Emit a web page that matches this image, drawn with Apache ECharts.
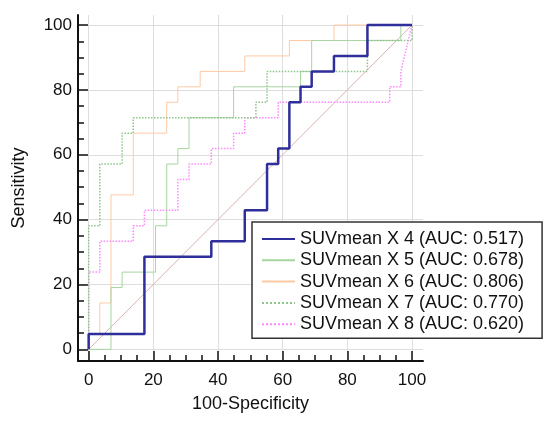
<!DOCTYPE html>
<html>
<head>
<meta charset="utf-8">
<script src="https://cdn.jsdelivr.net/npm/echarts@6/dist/echarts.min.js"></script>
<style>
  html, body { margin: 0; padding: 0; background: #fff; }
  #chart { width: 550px; height: 424px; }
</style>
</head>
<body>
<div id="chart"></div>
<script type="text/javascript">
// ROC corner points, 100-Specificity (x) and Sensitivity (y), in %
var x4 = [0, 0, 17.24, 17.24, 37.93, 37.93, 48.28, 48.28, 55.17, 55.17, 58.62, 58.62, 62.07, 62.07, 65.52, 65.52, 68.97, 68.97, 75.86, 75.86, 86.21, 86.21, 100];
var y4 = [0, 4.76, 4.76, 28.57, 28.57, 33.33, 33.33, 42.86, 42.86, 57.14, 57.14, 61.90, 61.90, 76.19, 76.19, 80.95, 80.95, 85.71, 85.71, 90.48, 90.48, 100, 100];

var x5 = [0, 6.90, 6.90, 10.34, 10.34, 20.69, 20.69, 24.14, 24.14, 27.59, 27.59, 31.03, 31.03, 44.83, 44.83, 65.52, 65.52, 68.97, 68.97, 96.55, 96.55, 100];
var y5 = [0, 0, 19.05, 19.05, 23.81, 23.81, 38.10, 38.10, 57.14, 57.14, 61.90, 61.90, 71.43, 71.43, 80.95, 80.95, 85.71, 85.71, 95.24, 95.24, 100, 100];

var x6 = [0, 0, 3.45, 3.45, 6.90, 6.90, 13.79, 13.79, 24.14, 24.14, 27.59, 27.59, 34.48, 34.48, 48.28, 48.28, 62.07, 62.07, 75.86, 75.86, 100];
var y6 = [0, 4.76, 4.76, 14.29, 14.29, 47.62, 47.62, 66.67, 66.67, 76.19, 76.19, 80.95, 80.95, 85.71, 85.71, 90.48, 90.48, 95.24, 95.24, 100, 100];

var x7 = [0, 0, 3.45, 3.45, 10.34, 10.34, 13.79, 13.79, 51.72, 51.72, 55.17, 55.17, 86.21, 86.21, 100, 100];
var y7 = [0, 38.10, 38.10, 57.14, 57.14, 66.67, 66.67, 71.43, 71.43, 76.19, 76.19, 85.71, 85.71, 95.24, 95.24, 100];

var x8 = [0, 0, 3.45, 3.45, 13.79, 13.79, 17.24, 17.24, 27.59, 27.59, 31.03, 31.03, 37.93, 37.93, 44.83, 44.83, 48.28, 48.28, 58.62, 58.62, 93.10, 93.10, 96.55, 96.55, 100];
var y8 = [0, 23.81, 23.81, 33.33, 33.33, 38.10, 38.10, 42.86, 42.86, 52.38, 52.38, 57.14, 57.14, 61.90, 61.90, 66.67, 66.67, 71.43, 71.43, 76.19, 76.19, 80.95, 80.95, 85.71, 100];

var diagX = [0, 100];
var diagY = [0, 100];

var names = ['SUVmean X 4 (AUC: 0.517)', 'SUVmean X 5 (AUC: 0.678)', 'SUVmean X 6 (AUC: 0.806)',
             'SUVmean X 7 (AUC: 0.770)', 'SUVmean X 8 (AUC: 0.620)'];

var majorTicks = [0, 20, 40, 60, 80, 100];
var minorTicks = [5, 10, 15, 25, 30, 35, 45, 50, 55, 65, 70, 75, 85, 90, 95];

function pairs(xs, ys) {
    var out = [];
    for (var i = 0; i < xs.length; i++) out.push([xs[i], ys[i]]);
    return out;
}

var font = 'Liberation Sans, Arial, sans-serif';

function mainAxis(name, min, max, pos, gap, margin) {
    return {
        type: 'value', position: pos, min: min, max: max,
        name: name, nameLocation: 'middle', nameGap: gap,
        nameTextStyle: { fontFamily: font, fontSize: 18, color: '#111' },
        axisLine: { show: true, onZero: false, lineStyle: { color: '#111', width: 2 } },
        axisTick: { show: true, inside: true, length: 10, customValues: majorTicks,
                    lineStyle: { color: '#111', width: 1.5 } },
        axisLabel: { show: true, customValues: majorTicks, margin: margin,
                     fontFamily: font, fontSize: 17, color: '#111' },
        splitLine: { show: true, lineStyle: { color: '#dedede', width: 1 } }
    };
}
function minorAxis(min, max, pos) {
    return {
        type: 'value', position: pos, min: min, max: max,
        axisLine: { show: false, onZero: false },
        axisTick: { show: true, inside: true, length: 6, customValues: minorTicks,
                    lineStyle: { color: '#111', width: 1.5 } },
        axisLabel: { show: false },
        splitLine: { show: false }
    };
}

function roc(name, xs, ys, color, width, type, z) {
    return {
        name: name, type: 'line', data: pairs(xs, ys),
        symbol: 'none', showSymbol: false, z: z,
        lineStyle: { color: color, width: width, type: type },
        itemStyle: { color: color }
    };
}

var chart = echarts.init(document.getElementById('chart'));
var option = {
    animation: false,
    backgroundColor: '#fff',
    grid: { left: 78, right: 127, top: 15, bottom: 63 },
    xAxis: [
        mainAxis('100-Specificity', -3.3, 103.4, 'bottom', 34, 11),
        minorAxis(-3.3, 103.4, 'bottom')
    ],
    yAxis: [
        mainAxis('Sensitivity', -3.6, 103.1, 'left', 50, 6),
        minorAxis(-3.6, 103.1, 'left')
    ],
    legend: {
        data: names,
        orient: 'vertical',
        left: 252, top: 222,
        padding: [8, 18, 5, 9],
        itemWidth: 33, itemHeight: 1, itemGap: 3.3,
        backgroundColor: '#fff',
        borderColor: '#333', borderWidth: 1.5, borderRadius: 0,
        textStyle: { fontFamily: font, fontSize: 18, color: '#111', lineHeight: 18 }
    },
    series: [
        { name: 'ref', type: 'line', data: pairs(diagX, diagY), symbol: 'none', z: 1,
          lineStyle: { color: '#dbb3b3', width: 1 } },
        roc(names[0], x4, y4, '#2f2f9c', 2.5, 'solid', 6),
        roc(names[1], x5, y5, '#a6d6a0', 1, 'solid', 3),
        roc(names[2], x6, y6, '#ffc9a4', 1, 'solid', 2),
        roc(names[3], x7, y7, '#8fc58c', 1.5, 'dotted', 4),
        roc(names[4], x8, y8, '#ff88ff', 1.5, 'dotted', 3)
    ]
};
chart.setOption(option);
</script>
</body>
</html>
